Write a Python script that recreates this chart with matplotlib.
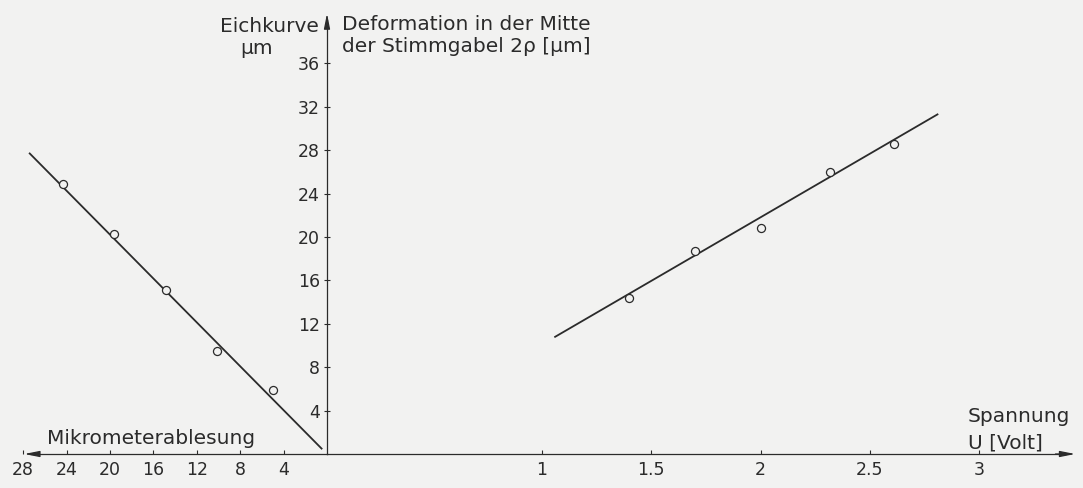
import numpy as np
import matplotlib
matplotlib.use('Agg')
import matplotlib.pyplot as plt

# Eichkurve (links): Mikrometerablesung gegen Eichwert in µm
mikro = [24.3, 19.6, 14.8, 10.1, 5.0]
eich = [24.9, 20.3, 15.1, 9.5, 5.9]
eich_fit_x = [27.4, 0.5]
eich_fit_y = [27.7, 0.5]

# Deformation (rechts): Spannung in Volt gegen 2rho in µm
spannung = [1.40, 1.70, 2.00, 2.32, 2.61]
deform = [14.4, 18.7, 20.8, 26.0, 28.6]
deform_fit_x = [1.06, 2.81]
deform_fit_y = [10.8, 31.3]

mikro_ticks = [4, 8, 12, 16, 20, 24, 28]
volt_ticks = [1, 1.5, 2, 2.5, 3]
volt_labels = ['1', '1.5', '2', '2.5', '3']
y_ticks = [4, 8, 12, 16, 20, 24, 28, 32, 36]

bg = '#f2f2f1'
ink = '#2b2b2b'
W, H = 1083, 488

plt.rcParams['font.family'] = 'DejaVu Sans'
fig = plt.figure(figsize=(W / 100, H / 100), dpi=100, facecolor=bg)

x0 = 327  # pixel position of the origin
ylim = (-34 / 10.85, 454 / 10.85)
arrow = dict(arrowstyle='-|>,head_length=0.9,head_width=0.18',
             color=ink, lw=0.9, shrinkA=0, shrinkB=0)

# left axes: reversed micrometer scale
axl = fig.add_axes([0, 0, x0 / W, 1])
axl.set_facecolor('none')
axl.set_xlim(x0 / 10.85, 0)
axl.set_ylim(*ylim)
for s in ['top', 'left', 'right']:
    axl.spines[s].set_visible(False)
axl.spines['bottom'].set_position(('data', 0))
axl.spines['bottom'].set_bounds(0, 27.3)
axl.spines['bottom'].set_color(ink)
axl.spines['bottom'].set_linewidth(0.9)
axl.set_yticks([])
axl.set_xticks(mikro_ticks)
axl.set_xticklabels([str(t) for t in mikro_ticks])
axl.tick_params(axis='x', direction='in', length=3, width=0.8, color=ink,
                labelcolor=ink, labelsize=12.5, pad=5)
axl.annotate('', xy=(27.9, 0), xytext=(27.0, 0), arrowprops=arrow,
             annotation_clip=False)

axl.plot(eich_fit_x, eich_fit_y, color=ink, lw=1.3)
axl.plot(mikro, eich, 'o', ms=5.8, mfc=bg, mec=ink, mew=0.9)

# right axes: voltage scale
axr = fig.add_axes([x0 / W, 0, (W - x0) / W, 1])
axr.set_facecolor('none')
u0 = 323.5
upx = 218.5
xa = (x0 - u0) / upx
axr.set_xlim(xa, (W - u0) / upx)
axr.set_ylim(*ylim)
for s in ['top', 'right']:
    axr.spines[s].set_visible(False)
axr.spines['bottom'].set_position(('data', 0))
axr.spines['bottom'].set_bounds(xa, 3.40)
axr.spines['left'].set_bounds(0, 40.0)
for s in ['bottom', 'left']:
    axr.spines[s].set_color(ink)
    axr.spines[s].set_linewidth(0.9)
axr.set_xticks(volt_ticks)
axr.set_xticklabels(volt_labels)
axr.set_yticks(y_ticks)
axr.set_yticklabels([str(t) for t in y_ticks])
axr.tick_params(axis='x', direction='in', length=3, width=0.8, color=ink,
                labelcolor=ink, labelsize=12.5, pad=5)
axr.tick_params(axis='y', direction='inout', length=4, width=0.8, color=ink,
                labelcolor=ink, labelsize=12.5, pad=3)
axr.annotate('', xy=(3.44, 0), xytext=(3.35, 0), arrowprops=arrow,
             annotation_clip=False)
axr.annotate('', xy=(xa, 40.6), xytext=(xa, 39.5), arrowprops=arrow,
             annotation_clip=False)

axr.plot(deform_fit_x, deform_fit_y, color=ink, lw=1.3)
axr.plot(spannung, deform, 'o', ms=5.8, mfc=bg, mec=ink, mew=0.9)

# labels
def ftext(px, py, s, **kw):
    fig.text(px / W, 1 - py / H, s, color=ink, fontsize=14.5, **kw)

ftext(319, 26, 'Eichkurve', ha='right', va='center')
ftext(257, 48, 'µm', ha='center', va='center')
ftext(342, 24, 'Deformation in der Mitte', ha='left', va='center')
ftext(342, 47, 'der Stimmgabel 2ρ [µm]', ha='left', va='center')
ftext(47, 438, 'Mikrometerablesung', ha='left', va='center')
ftext(968, 416, 'Spannung', ha='left', va='center')
ftext(968, 443, 'U [Volt]', ha='left', va='center')

fig.savefig('out.png', dpi=100, facecolor=bg)
